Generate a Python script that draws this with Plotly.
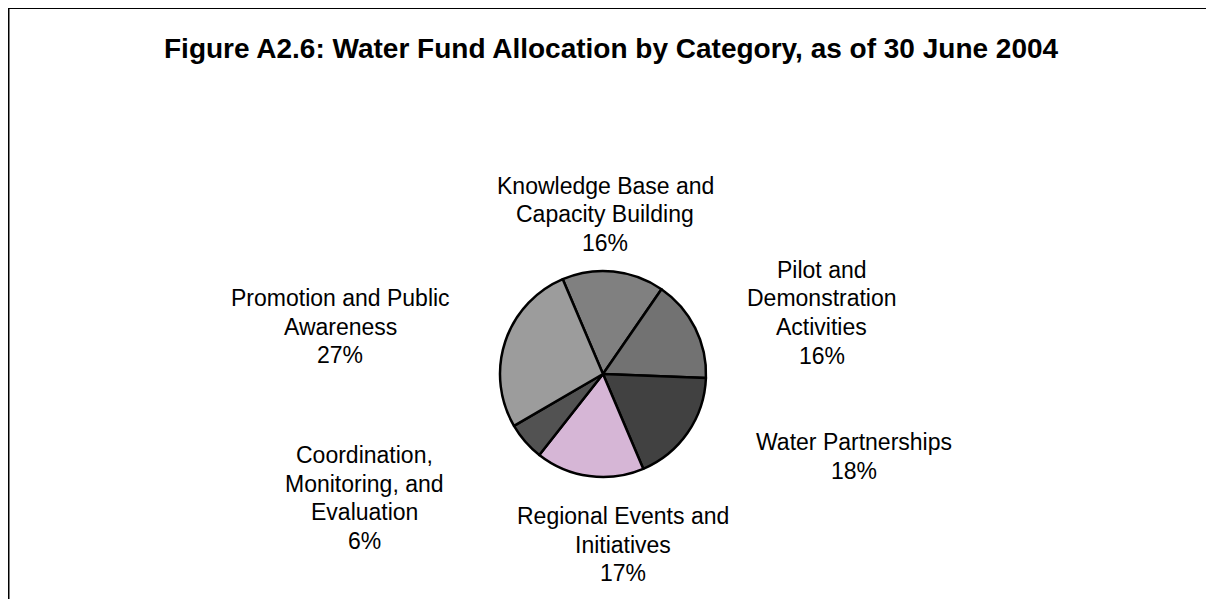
import plotly.graph_objects as go

categories = [
    "Knowledge Base and<br>Capacity Building",
    "Pilot and<br>Demonstration<br>Activities",
    "Water Partnerships",
    "Regional Events and<br>Initiatives",
    "Coordination,<br>Monitoring, and<br>Evaluation",
    "Promotion and Public<br>Awareness",
]
shares = [16, 16, 18, 17, 6, 27]
colors = ["#808080", "#727272", "#414141", "#d6b6d6", "#525252", "#9c9c9c"]

# page has an 8px body margin; figure sized to fit the window exactly
OFF = 8
W, H = 1214 - 2 * OFF, 607 - 2 * OFF

# label anchors in window pixels: center x, first-line center y
label_pos = [(605, 186), (822, 270), (854, 442), (623, 516), (365, 455), (340, 298)]
line_gap = 28.5

cx, cy, r = 603, 374, 103


def px(x):
    return (x - OFF) / W


def py(y):
    return 1 - (y - OFF) / H


fig = go.Figure(go.Pie(
    labels=[c.replace("<br>", " ") for c in categories],
    values=shares,
    sort=False,
    direction="clockwise",
    rotation=-23,
    marker=dict(colors=colors, line=dict(color="black", width=2.5)),
    textinfo="none",
    showlegend=False,
    domain=dict(x=[px(cx - r), px(cx + r)], y=[py(cy + r), py(cy - r)]),
))

font = "Liberation Sans, Arial, sans-serif"
for cat, val, (x, y) in zip(categories, shares, label_pos):
    lines = cat.split("<br>") + [f"{val}%"]
    for i, line in enumerate(lines):
        fig.add_annotation(
            x=px(x), y=py(y + i * line_gap), xref="paper", yref="paper",
            xanchor="center", yanchor="middle", showarrow=False,
            text=line, font=dict(family=font, size=23, color="black"),
        )

fig.add_annotation(
    x=px(611), y=py(48), xref="paper", yref="paper",
    xanchor="center", yanchor="middle", showarrow=False,
    text="<b>Figure A2.6: Water Fund Allocation by Category, as of 30 June 2004</b>",
    font=dict(family=font, size=28, color="black"),
)

fig.add_shape(type="line", xref="paper", yref="paper",
              x0=px(8.5), y0=0, x1=px(8.5), y1=py(8), line=dict(color="black", width=2))
fig.add_shape(type="line", xref="paper", yref="paper",
              x0=px(8.5), y0=py(8), x1=1, y1=py(8), line=dict(color="black", width=2))

fig.update_layout(
    width=W, height=H,
    margin=dict(l=0, r=0, t=0, b=0),
    paper_bgcolor="white", plot_bgcolor="white",
)

fig.write_html("out.html")
